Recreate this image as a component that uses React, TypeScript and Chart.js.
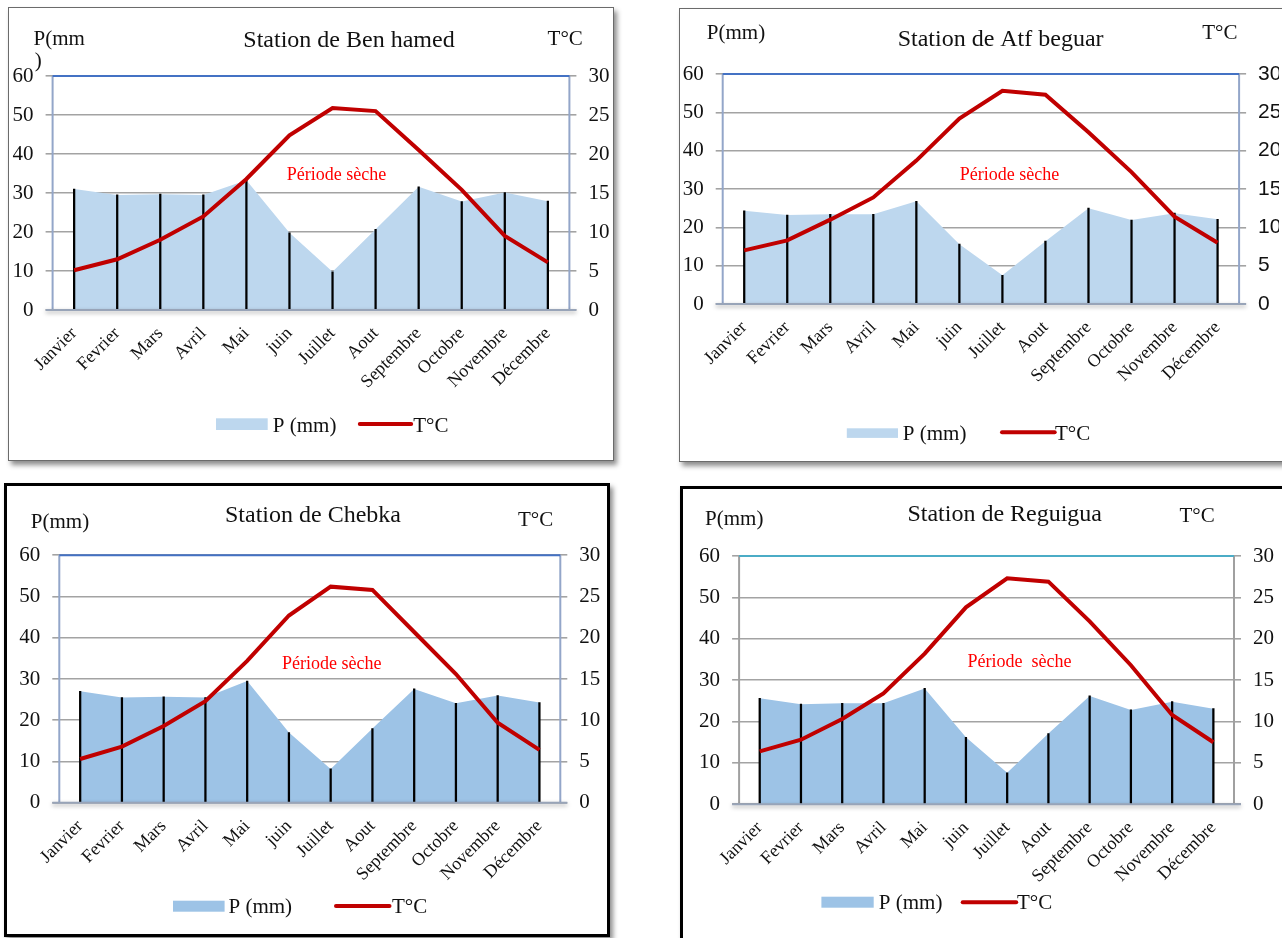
import React, { useEffect, useRef } from 'react';
import { Chart, registerables } from 'chart.js';

Chart.register(...registerables);

// Months shown on the category axis
const months = [
  'Janvier', 'Fevrier', 'Mars', 'Avril', 'Mai', 'juin',
  'Juillet', 'Aout', 'Septembre', 'Octobre', 'Novembre', 'Décembre',
];

// Precipitation axis (mm) and temperature axis (°C): P = 2T scale
const precipMax = 60;
const precipStep = 10;
const tempMax = 30;
const tempStep = 5;

// Monthly precipitation (mm) and mean temperature (°C) per station
const benHamedP = [31.0, 29.5, 29.7, 29.5, 33.3, 19.8, 9.8, 20.7, 31.6, 27.8, 30.1, 27.9];
const benHamedT = [5.1, 6.5, 9.0, 12.0, 16.8, 22.4, 25.9, 25.5, 20.5, 15.4, 9.5, 6.1];

const atfBeguarP = [24.3, 23.2, 23.4, 23.4, 26.8, 15.6, 7.5, 16.4, 25.0, 21.9, 23.7, 22.1];
const atfBeguarT = [7.0, 8.3, 11.0, 13.9, 18.7, 24.2, 27.8, 27.3, 22.4, 17.2, 11.4, 8.0];

const chebkaP = [27.0, 25.5, 25.7, 25.5, 29.5, 17.0, 8.2, 18.0, 27.6, 24.1, 26.0, 24.3];
const chebkaT = [5.3, 6.8, 9.3, 12.3, 17.2, 22.7, 26.2, 25.8, 20.7, 15.6, 9.7, 6.4];

const reguiguaP = [25.6, 24.2, 24.4, 24.4, 28.0, 16.2, 7.6, 17.1, 26.2, 22.8, 24.8, 23.1];
const reguiguaT = [6.4, 7.8, 10.3, 13.4, 18.2, 23.8, 27.3, 26.9, 22.1, 16.8, 10.8, 7.5];

const SERIF = "'Liberation Serif', 'Times New Roman', serif";
const SANS_NARROW = "'Liberation Sans Narrow', 'Liberation Sans', Arial, sans-serif";
const RED = '#C00000';
const INK = '#111111';

type TextAt = { text: string; x: number; y: number };

interface PanelSpec {
  key: string;
  title: TextAt;
  leftTitle: TextAt[];
  rightTitle: TextAt;
  dry: TextAt;
  p: number[];
  t: number[];
  box: { x: number; y: number; w: number; h: number; bw: number; bc: string };
  plot: { l: number; t: number; r: number; b: number };
  fill: string;
  topColor: string;
  sideColor: string;
  rightTickFont: { family: string; size: number };
  legend: {
    rect: [number, number, number, number];
    pText: [number, number];
    line: [number, number, number];
    tText: [number, number];
  };
}

const panels: PanelSpec[] = [
  {
    key: 'ben-hamed',
    title: { text: 'Station de Ben hamed', x: 349, y: 47 },
    leftTitle: [
      { text: 'P(mm', x: 33.6, y: 45 },
      { text: ')', x: 34.8, y: 67 },
    ],
    rightTitle: { text: 'T°C', x: 547.6, y: 45 },
    dry: { text: 'Période sèche', x: 336.5, y: 180 },
    p: benHamedP,
    t: benHamedT,
    box: { x: 8, y: 7, w: 606, h: 454, bw: 1, bc: '#6b6b6b' },
    plot: { l: 52.6, t: 76, r: 569.4, b: 310 },
    fill: '#BDD7EE',
    topColor: '#4472C4',
    sideColor: '#93A6C9',
    rightTickFont: { family: SERIF, size: 21 },
    legend: { rect: [216, 418.3, 51.7, 11.7], pText: [272.8, 431.5], line: [359.8, 411.2, 424], tText: [413.2, 431.5] },
  },
  {
    key: 'atf-beguar',
    title: { text: 'Station de Atf beguar', x: 1000.6, y: 46 },
    leftTitle: [{ text: 'P(mm)', x: 706.8, y: 39 }],
    rightTitle: { text: 'T°C', x: 1202.2, y: 38.5 },
    dry: { text: 'Période sèche', x: 1009.5, y: 180 },
    p: atfBeguarP,
    t: atfBeguarT,
    box: { x: 679, y: 8, w: 612, h: 454, bw: 1, bc: '#6b6b6b' },
    plot: { l: 722.7, t: 74, r: 1239.1, b: 304 },
    fill: '#BDD7EE',
    topColor: '#4472C4',
    sideColor: '#93A6C9',
    rightTickFont: { family: SANS_NARROW, size: 21 },
    legend: { rect: [846.8, 428.3, 51.2, 9.6], pText: [902.8, 440], line: [1002, 1054.7, 432.3], tText: [1055, 440] },
  },
  {
    key: 'chebka',
    title: { text: 'Station de Chebka', x: 313, y: 521.7 },
    leftTitle: [{ text: 'P(mm)', x: 30.8, y: 528.3 }],
    rightTitle: { text: 'T°C', x: 518, y: 526 },
    dry: { text: 'Période sèche', x: 331.7, y: 669 },
    p: chebkaP,
    t: chebkaT,
    box: { x: 4, y: 483, w: 606, h: 454, bw: 3, bc: '#000000' },
    plot: { l: 59.3, t: 555.3, r: 560.3, b: 802.7 },
    fill: '#9DC3E6',
    topColor: '#4472C4',
    sideColor: '#93A6C9',
    rightTickFont: { family: SERIF, size: 21 },
    legend: { rect: [173, 900.7, 51.6, 11], pText: [228.5, 913], line: [336, 389.5, 906], tText: [392, 913] },
  },
  {
    key: 'reguigua',
    title: { text: 'Station de Reguigua', x: 1004.7, y: 520.7 },
    leftTitle: [{ text: 'P(mm)', x: 705.1, y: 525 }],
    rightTitle: { text: 'T°C', x: 1179.4, y: 521.7 },
    dry: { text: 'Période  sèche', x: 1019.4, y: 666.7 },
    p: reguiguaP,
    t: reguiguaT,
    box: { x: 680, y: 486, w: 612, h: 460, bw: 3, bc: '#000000' },
    plot: { l: 739.1, t: 556, r: 1234, b: 804.3 },
    fill: '#9DC3E6',
    topColor: '#4BACC6',
    sideColor: '#A0A0A0',
    rightTickFont: { family: SERIF, size: 21 },
    legend: { rect: [821.4, 896.7, 52.3, 11], pText: [878.8, 909], line: [962.7, 1016.2, 902.3], tText: [1017, 909] },
  },
];

function ClimatePanel({ spec }: { spec: PanelSpec }) {
  const ref = useRef<HTMLCanvasElement>(null);
  const { box, plot } = spec;
  const cw = box.w - 2 * box.bw;
  const ch = box.h - 2 * box.bw;

  useEffect(() => {
    const canvas = ref.current;
    if (!canvas) return;
    const ox = box.x + box.bw;
    const oy = box.y + box.bw;
    const L = plot.l - ox;
    const R = plot.r - ox;
    const T = plot.t - oy;
    const B = plot.b - oy;
    const AXW = 40;
    const XH = 90;

    const put = (ctx: CanvasRenderingContext2D, s: TextAt, font: string, color: string, align: CanvasTextAlign) => {
      ctx.font = font;
      ctx.fillStyle = color;
      ctx.textAlign = align;
      ctx.textBaseline = 'alphabetic';
      ctx.fillText(s.text, s.x - ox, s.y - oy);
    };

    const decor = {
      id: 'climateDecor',
      beforeDatasetsDraw(chart: any) {
        const { ctx, chartArea: a } = chart;
        ctx.save();
        // side frame of the plot area
        ctx.strokeStyle = spec.sideColor;
        ctx.lineWidth = 2;
        ctx.beginPath();
        ctx.moveTo(a.left, a.top);
        ctx.lineTo(a.left, a.bottom);
        ctx.moveTo(a.right, a.top);
        ctx.lineTo(a.right, a.bottom);
        ctx.stroke();
        ctx.restore();
      },
      afterDatasetsDraw(chart: any) {
        const { ctx, chartArea: a } = chart;
        ctx.save();
        // top frame line
        ctx.strokeStyle = spec.topColor;
        ctx.lineWidth = 2;
        ctx.beginPath();
        ctx.moveTo(a.left, a.top);
        ctx.lineTo(a.right, a.top);
        ctx.stroke();
        // base line with soft shadow
        ctx.shadowColor = 'rgba(0,0,0,0.35)';
        ctx.shadowBlur = 4;
        ctx.shadowOffsetY = 2;
        ctx.strokeStyle = '#98A4B8';
        ctx.lineWidth = 2;
        ctx.beginPath();
        ctx.moveTo(a.left - 7, a.bottom);
        ctx.lineTo(a.right + 7, a.bottom);
        ctx.stroke();
        ctx.restore();
      },
      afterDraw(chart: any) {
        const ctx: CanvasRenderingContext2D = chart.ctx;
        ctx.save();
        put(ctx, spec.title, `24px ${SERIF}`, INK, 'center');
        spec.leftTitle.forEach((s) => put(ctx, s, `21px ${SERIF}`, INK, 'left'));
        put(ctx, spec.rightTitle, `21px ${SERIF}`, INK, 'left');
        put(ctx, spec.dry, `18px ${SERIF}`, '#FF0000', 'center');

        // legend
        const lg = spec.legend;
        ctx.fillStyle = spec.fill;
        ctx.fillRect(lg.rect[0] - ox, lg.rect[1] - oy, lg.rect[2], lg.rect[3]);
        put(ctx, { text: 'P (mm)', x: lg.pText[0], y: lg.pText[1] }, `21px ${SERIF}`, INK, 'left');
        ctx.strokeStyle = RED;
        ctx.lineWidth = 4;
        ctx.lineCap = 'round';
        ctx.beginPath();
        ctx.moveTo(lg.line[0] - ox, lg.line[2] - oy);
        ctx.lineTo(lg.line[1] - ox, lg.line[2] - oy);
        ctx.stroke();
        put(ctx, { text: 'T°C', x: lg.tText[0], y: lg.tText[1] }, `21px ${SERIF}`, INK, 'left');
        ctx.restore();
      },
    };

    const chart = new Chart(canvas, {
      type: 'line',
      data: {
        labels: months,
        datasets: [
          {
            type: 'line',
            label: 'T°C',
            data: spec.t,
            yAxisID: 'y1',
            borderColor: RED,
            borderWidth: 4,
            pointRadius: 0,
            tension: 0,
            fill: false,
            order: 0,
          },
          {
            type: 'bar',
            label: 'P drop',
            data: spec.p,
            yAxisID: 'y',
            backgroundColor: '#000000',
            barThickness: 1.6,
            grouped: false,
            order: 1,
          },
          {
            type: 'line',
            label: 'P (mm)',
            data: spec.p,
            yAxisID: 'y',
            borderWidth: 0,
            borderColor: 'rgba(0,0,0,0)',
            backgroundColor: spec.fill,
            pointRadius: 0,
            tension: 0,
            fill: 'origin',
            order: 2,
          },
        ] as any,
      },
      options: {
        animation: false,
        responsive: false,
        devicePixelRatio: 1,
        layout: {
          padding: { left: L - AXW, right: cw - R - AXW, top: T, bottom: ch - B - XH },
        },
        plugins: { legend: { display: false }, tooltip: { enabled: false }, title: { display: false } },
        scales: {
          x: {
            type: 'category',
            offset: true,
            grid: { display: true, drawOnChartArea: false, drawTicks: false },
            border: { display: false },
            ticks: {
              autoSkip: false,
              minRotation: 45,
              maxRotation: 45,
              padding: 13,
              color: INK,
              font: { family: SERIF, size: 18 },
            },
            afterFit: (s: any) => { s.height = XH; },
          },
          y: {
            position: 'left',
            min: 0,
            max: precipMax,
            ticks: { stepSize: precipStep, padding: 12, color: INK, font: { family: SERIF, size: 21 } },
            grid: { color: '#A3A3A3', lineWidth: 1.6, tickLength: 7 },
            border: { display: false },
            afterFit: (s: any) => { s.width = AXW; },
          },
          y1: {
            position: 'right',
            min: 0,
            max: tempMax,
            ticks: { stepSize: tempStep, padding: 12, color: INK, font: spec.rightTickFont },
            grid: { drawOnChartArea: false, color: '#A3A3A3', lineWidth: 1.6, tickLength: 7 },
            border: { display: false },
            afterFit: (s: any) => { s.width = AXW; },
          },
        },
      } as any,
      plugins: [decor],
    });
    return () => chart.destroy();
  }, [spec]);

  return (
    <div
      style={{
        position: 'absolute',
        left: box.x,
        top: box.y,
        width: box.w,
        height: box.h,
        boxSizing: 'border-box',
        border: `${box.bw}px solid ${box.bc}`,
        boxShadow: '3px 4px 5px rgba(0,0,0,0.45)',
        background: '#ffffff',
      }}
    >
      <canvas ref={ref} width={cw} height={ch} style={{ display: 'block', width: cw, height: ch }} />
    </div>
  );
}

export default function App() {
  return (
    <div
      style={{
        position: 'fixed',
        left: 0,
        top: 0,
        width: 1282,
        height: 938,
        overflow: 'hidden',
        background: '#ffffff',
      }}
    >
      {panels.map((p) => (
        <ClimatePanel key={p.key} spec={p} />
      ))}
    </div>
  );
}
